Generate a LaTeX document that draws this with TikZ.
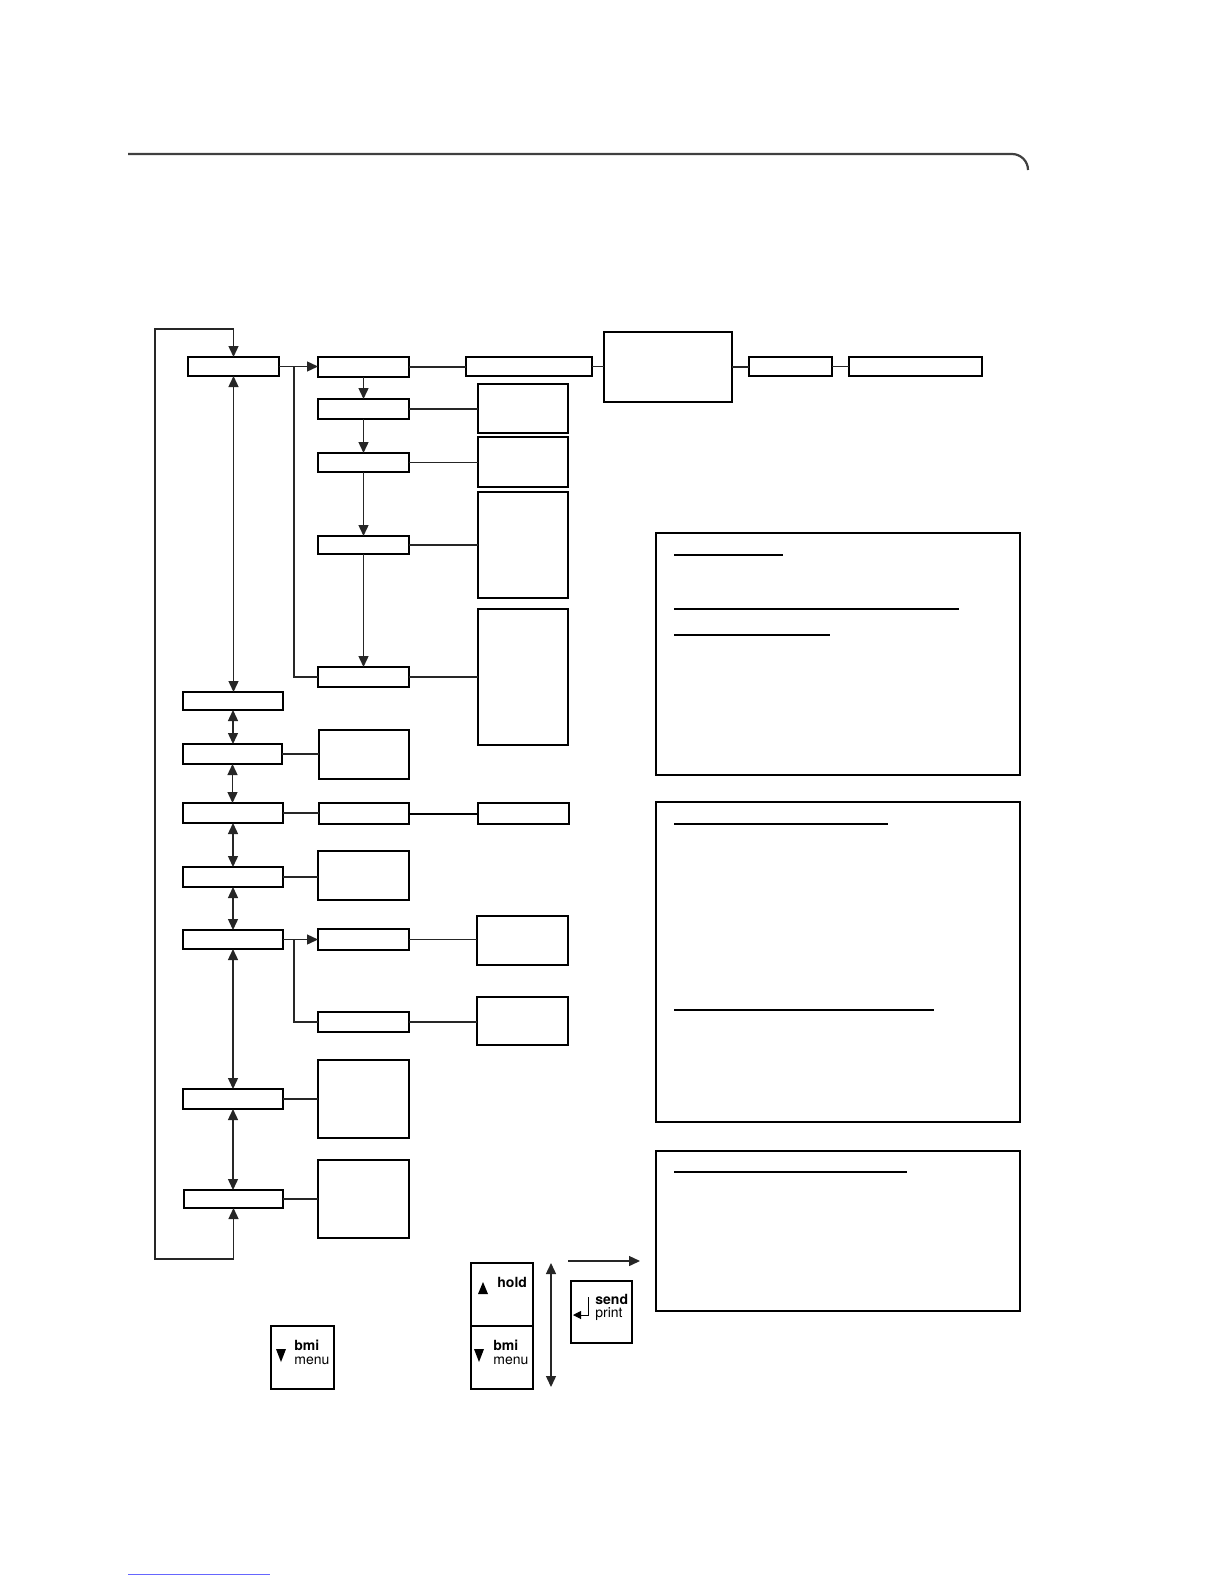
\documentclass[tikz,border=0pt]{standalone}
\usepackage{fontspec}
\setsansfont{TeX Gyre Heros}
\usetikzlibrary{arrows.meta}
\newcommand\mybox[6][]{\node[bx,#1,minimum width={(#5-#3)*0.5pt},minimum height={(#6-#4)*0.5pt}] (#2) at ({(#3+#5)/2},{(#4+#6)/2}) {};}
\tikzset{
  bx/.style={draw,line width=0.75pt,inner sep=0pt,outer sep=0pt},
  thk/.style={line width=1.1pt},
  conn/.style={line width=0.7pt,draw=black!85},
  tip/.style={-{Triangle[length=5.5pt,width=5pt]}},
  dtip/.style={{Triangle[length=5.5pt,width=5pt]}-{Triangle[length=5.5pt,width=5pt]}},
  panel/.style={draw,line width=0.9pt},
  uline/.style={line width=0.7pt},
  keytxt/.style={font=\sffamily\fontsize{7}{8}\selectfont,inner sep=0pt,anchor=west},
}
\begin{document}
\begin{tikzpicture}[x=0.5pt,y=-0.5pt]
\useasboundingbox (0,0) rectangle (1224,1584);
% header rule
\draw[line width=1.1pt,black!75] (128,154) -- (1012,154) arc[start angle=-90,end angle=0,radius=16];
% bottom link rule
\draw[line width=0.5pt,blue!60] (128,1574) -- (270,1574);

% left column
\mybox{A}{188}{357}{279}{376}
\mybox[thk]{L1}{183}{692}{283}{710}
\mybox{L2}{183}{744}{282}{764}
\mybox[thk]{L3}{183}{803}{283}{823}
\mybox{L4}{183}{867}{283}{887}
\mybox[thk]{L5}{183}{930}{283}{949}
\mybox{L6}{183}{1089}{283}{1109}
\mybox{L7}{184}{1190}{283}{1208}

% middle column
\mybox{B}{318}{357}{409}{377}
\mybox{B2}{318}{399}{409}{419}
\mybox{B3}{318}{453}{409}{472}
\mybox{B4}{318}{536}{409}{554}
\mybox{B5}{318}{667}{409}{687}
\mybox{M2}{319}{730}{409}{779}
\mybox{M3}{319}{803}{409}{824}
\mybox{M4}{318}{851}{409}{900}
\mybox{M5}{318}{929}{409}{950}
\mybox{M6}{318}{1012}{409}{1032}
\mybox{M7}{318}{1060}{409}{1138}
\mybox{M8}{318}{1160}{409}{1238}

% right column
\mybox[thk]{C}{466}{357}{592}{376}
\mybox{D}{478}{384}{568}{433}
\mybox[thk]{D2}{478}{437}{568}{487}
\mybox{D3}{478}{492}{568}{598}
\mybox{D4}{478}{609}{568}{745}
\mybox[thk]{N3}{478}{803}{569}{824}
\mybox[thk]{N5}{477}{916}{568}{965}
\mybox{N6}{477}{997}{568}{1045}

% top right row
\mybox[line width=1.1pt]{E}{604}{332}{732}{402}
\mybox[thk]{F}{749}{357}{832}{376}
\mybox[thk]{G}{849}{357}{982}{376}

% right panels
\draw[panel] (656,533) rectangle (1020,775);
\draw[uline] (674,555) -- (783,555);
\draw[line width=1.2pt] (674,609) -- (959,609);
\draw[uline] (674,635) -- (830,635);
\draw[panel] (656,802) rectangle (1020,1122);
\draw[uline] (674,824) -- (888,824);
\draw[uline] (674,1010) -- (934,1010);
\draw[panel] (656,1151) rectangle (1020,1311);
\draw[uline] (674,1172) -- (907,1172);

% loop
\coordinate (lpb) at (233.5,1259);
\coordinate (lpl) at (155,1259);
\coordinate (lptl) at (155,329);
\coordinate (lpt) at (233.5,329);
\draw[conn,dtip] (L7.south) -- (lpb) -- (lpl) -- (lptl) -- (lpt) -- (A.north);

% vertical double arrows in left column
\draw[conn,dtip] (A.south) -- (A.south |- L1.north);
\draw[conn,dtip] (L1.south) -- (L1.south |- L2.north);
\draw[conn,dtip] (L2.south) -- (L2.south |- L3.north);
\draw[conn,dtip] (L3.south) -- (L3.south |- L4.north);
\draw[conn,dtip] (L4.south) -- (L4.south |- L5.north);
\draw[conn,dtip] (L5.south) -- (L5.south |- L6.north);
\draw[conn,dtip] (L6.south) -- (L6.south |- L7.north);

% top branch
\draw[conn,tip] (A.east) -- (A.east -| B.west);
\coordinate (br1) at (294,366.5);
\draw[conn] (br1) |- (B5.west);
\draw[conn,tip] (B.south) -- (B2.north);
\draw[conn,tip] (B2.south) -- (B3.north);
\draw[conn,tip] (B3.south) -- (B4.north);
\draw[conn,tip] (B4.south) -- (B5.north);
\draw[conn] (B.east) -- (B.east -| C.west);
\draw[conn] (C.east) -- (C.east -| E.west);
\draw[conn] (E.east) -- (E.east -| F.west);
\draw[conn] (F.east) -- (F.east -| G.west);
\draw[conn] (B2.east) -- (B2.east -| D.west);
\draw[conn] (B3.east) -- (B3.east -| D2.west);
\draw[conn] (B4.east) -- (B4.east -| D3.west);
\draw[conn] (B5.east) -- (B5.east -| D4.west);

% lower connections
\draw[conn] (L2.east) -- (L2.east -| M2.west);
\draw[conn] (L3.east) -- (L3.east -| M3.west);
\draw[line width=1pt] (M3.east) -- (M3.east -| N3.west);
\draw[conn] (L4.east) -- (L4.east -| M4.west);
\draw[conn,tip] (L5.east) -- (L5.east -| M5.west);
\coordinate (br2) at (294,939.5);
\draw[conn] (br2) |- (M6.west);
\draw[conn] (M5.east) -- (M5.east -| N5.west);
\draw[conn] (M6.east) -- (M6.east -| N6.west);
\draw[conn] (L6.east) -- (L6.east -| M7.west);
\draw[conn] (L7.east) -- (L7.east -| M8.west);

% keys
\mybox[line width=0.6pt]{kbmi}{271}{1326}{334}{1389}
\mybox[line width=0.6pt]{khold}{471}{1263}{533}{1326}
\mybox[line width=0.6pt]{kbmib}{471}{1326}{533}{1389}
\mybox[line width=0.6pt]{ksend}{571}{1281}{632}{1343}
\fill (276,1349) -- (286,1349) -- (281,1362) -- cycle;
\fill (474,1349) -- (484,1349) -- (479,1362) -- cycle;
\fill (478,1294) -- (488,1294) -- (483,1282) -- cycle;
\node[keytxt] (tbmi) at (294,1345) {\textbf{bmi}};
\node[keytxt] (tmenu) at (294,1361) {menu};
\node[keytxt] (tbmib) at (493,1345) {\textbf{bmi}};
\node[keytxt] (tmenub) at (493,1361) {menu};
\node[keytxt] (thold) at (497,1282) {\textbf{hold}};
\node[keytxt] (tsend) at (595,1299) {\textbf{send}};
\node[keytxt] (tprint) at (595,1314) {print};
\coordinate (ret1) at (588,1297);
\coordinate (ret2) at (588,1315);
\coordinate (ret3) at (573,1315);
\draw[line width=0.5pt,-{Triangle[length=4pt,width=4pt]}] (ret1) -- (ret2) -- (ret3);
\coordinate (va) at (551,1263);
\coordinate (vb) at (551,1387);
\draw[conn,dtip] (va) -- (vb);
\coordinate (ha) at (568,1261);
\coordinate (hb) at (640,1261);
\draw[conn,tip] (ha) -- (hb);
\end{tikzpicture}
\end{document}
